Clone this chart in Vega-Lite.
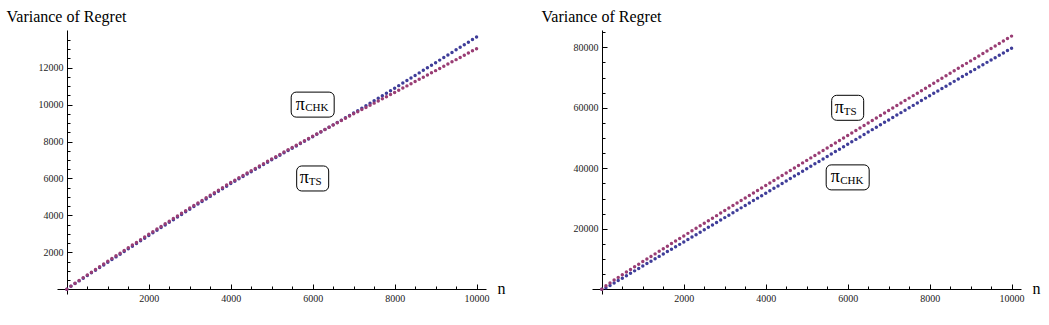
{
"$schema": "https://vega.github.io/schema/vega-lite/v6.json",
"background": "white",
"padding": {"left": 6, "top": 8, "right": 5, "bottom": 5},
"bounds": "flush",
"spacing": 106,
"config": {"view": {"stroke": null}, "font": "Liberation Serif", "axis": {"grid": false, "domainColor": "black", "tickColor": "black", "tickWidth": 1, "domainWidth": 1, "labelFont": "Liberation Serif", "labelFontSize": 10, "labelColor": "#222", "titleFont": "Liberation Serif", "titleFontWeight": "normal", "titleColor": "black", "labelFlush": false, "labelOverlap": false}},
"datasets": {
"left": [
{"n":0,"chk":0,"ts":0},{"n":100,"chk":160,"ts":172},{"n":200,"chk":310,"ts":330},{"n":300,"chk":455,"ts":482},{"n":400,"chk":600,"ts":632},{"n":500,"chk":745,"ts":780},{"n":600,"chk":890,"ts":927},{"n":700,"chk":1033,"ts":1075},{"n":800,"chk":1177,"ts":1223},{"n":900,"chk":1321,"ts":1371},
{"n":1000,"chk":1466,"ts":1520},{"n":1100,"chk":1611,"ts":1666},{"n":1200,"chk":1755,"ts":1811},{"n":1300,"chk":1900,"ts":1957},{"n":1400,"chk":2044,"ts":2102},{"n":1500,"chk":2189,"ts":2248},{"n":1600,"chk":2334,"ts":2393},{"n":1700,"chk":2478,"ts":2539},{"n":1800,"chk":2623,"ts":2684},{"n":1900,"chk":2767,"ts":2830},
{"n":2000,"chk":2912,"ts":2975},{"n":2100,"chk":3055,"ts":3118},{"n":2200,"chk":3197,"ts":3260},{"n":2300,"chk":3340,"ts":3403},{"n":2400,"chk":3482,"ts":3545},{"n":2500,"chk":3625,"ts":3688},{"n":2600,"chk":3768,"ts":3830},{"n":2700,"chk":3910,"ts":3973},{"n":2800,"chk":4053,"ts":4115},{"n":2900,"chk":4195,"ts":4258},
{"n":3000,"chk":4338,"ts":4400},{"n":3100,"chk":4477,"ts":4538},{"n":3200,"chk":4615,"ts":4676},{"n":3300,"chk":4754,"ts":4814},{"n":3400,"chk":4892,"ts":4952},{"n":3500,"chk":5031,"ts":5090},{"n":3600,"chk":5170,"ts":5228},{"n":3700,"chk":5308,"ts":5366},{"n":3800,"chk":5447,"ts":5504},{"n":3900,"chk":5585,"ts":5642},
{"n":4000,"chk":5724,"ts":5780},{"n":4100,"chk":5853,"ts":5908},{"n":4200,"chk":5981,"ts":6036},{"n":4300,"chk":6110,"ts":6164},{"n":4400,"chk":6238,"ts":6292},{"n":4500,"chk":6367,"ts":6420},{"n":4600,"chk":6496,"ts":6548},{"n":4700,"chk":6624,"ts":6676},{"n":4800,"chk":6753,"ts":6804},{"n":4900,"chk":6881,"ts":6932},
{"n":5000,"chk":7010,"ts":7060},{"n":5100,"chk":7136,"ts":7183},{"n":5200,"chk":7261,"ts":7306},{"n":5300,"chk":7387,"ts":7429},{"n":5400,"chk":7512,"ts":7552},{"n":5500,"chk":7638,"ts":7675},{"n":5600,"chk":7763,"ts":7798},{"n":5700,"chk":7889,"ts":7921},{"n":5800,"chk":8014,"ts":8044},{"n":5900,"chk":8140,"ts":8167},
{"n":6000,"chk":8265,"ts":8290},{"n":6100,"chk":8393,"ts":8411},{"n":6200,"chk":8520,"ts":8532},{"n":6300,"chk":8648,"ts":8653},{"n":6400,"chk":8775,"ts":8774},{"n":6500,"chk":8903,"ts":8895},{"n":6600,"chk":9030,"ts":9016},{"n":6700,"chk":9158,"ts":9137},{"n":6800,"chk":9285,"ts":9258},{"n":6900,"chk":9413,"ts":9379},
{"n":7000,"chk":9540,"ts":9500},{"n":7100,"chk":9675,"ts":9616},{"n":7200,"chk":9810,"ts":9732},{"n":7300,"chk":9945,"ts":9848},{"n":7400,"chk":10080,"ts":9964},{"n":7500,"chk":10215,"ts":10080},{"n":7600,"chk":10350,"ts":10196},{"n":7700,"chk":10485,"ts":10312},{"n":7800,"chk":10620,"ts":10428},{"n":7900,"chk":10755,"ts":10544},
{"n":8000,"chk":10890,"ts":10660},{"n":8100,"chk":11028,"ts":10778},{"n":8200,"chk":11166,"ts":10896},{"n":8300,"chk":11304,"ts":11014},{"n":8400,"chk":11442,"ts":11132},{"n":8500,"chk":11580,"ts":11250},{"n":8600,"chk":11718,"ts":11368},{"n":8700,"chk":11856,"ts":11486},{"n":8800,"chk":11994,"ts":11604},{"n":8900,"chk":12132,"ts":11722},
{"n":9000,"chk":12270,"ts":11840},{"n":9100,"chk":12409,"ts":11959},{"n":9200,"chk":12548,"ts":12078},{"n":9300,"chk":12687,"ts":12197},{"n":9400,"chk":12826,"ts":12316},{"n":9500,"chk":12965,"ts":12435},{"n":9600,"chk":13104,"ts":12554},{"n":9700,"chk":13243,"ts":12673},{"n":9800,"chk":13382,"ts":12792},{"n":9900,"chk":13521,"ts":12911},
{"n":10000,"chk":13660,"ts":13030}
],
"right": [
{"n":0,"chk":0,"ts":0},{"n":100,"chk":480,"ts":1170},{"n":200,"chk":1280,"ts":2120},{"n":300,"chk":2083,"ts":3040},{"n":400,"chk":2885,"ts":3940},{"n":500,"chk":3688,"ts":4830},{"n":600,"chk":4490,"ts":5710},{"n":700,"chk":5293,"ts":6580},{"n":800,"chk":6095,"ts":7450},{"n":900,"chk":6898,"ts":8310},
{"n":1000,"chk":7700,"ts":9170},{"n":1100,"chk":8495,"ts":10019},{"n":1200,"chk":9290,"ts":10867},{"n":1300,"chk":10085,"ts":11716},{"n":1400,"chk":10880,"ts":12564},{"n":1500,"chk":11675,"ts":13413},{"n":1600,"chk":12470,"ts":14261},{"n":1700,"chk":13265,"ts":15110},{"n":1800,"chk":14060,"ts":15958},{"n":1900,"chk":14855,"ts":16807},
{"n":2000,"chk":15650,"ts":17655},{"n":2100,"chk":16455,"ts":18492},{"n":2200,"chk":17260,"ts":19329},{"n":2300,"chk":18065,"ts":20166},{"n":2400,"chk":18870,"ts":21004},{"n":2500,"chk":19675,"ts":21841},{"n":2600,"chk":20480,"ts":22678},{"n":2700,"chk":21285,"ts":23515},{"n":2800,"chk":22090,"ts":24352},{"n":2900,"chk":22895,"ts":25190},
{"n":3000,"chk":23700,"ts":26027},{"n":3100,"chk":24505,"ts":26858},{"n":3200,"chk":25310,"ts":27689},{"n":3300,"chk":26115,"ts":28521},{"n":3400,"chk":26920,"ts":29352},{"n":3500,"chk":27725,"ts":30184},{"n":3600,"chk":28530,"ts":31015},{"n":3700,"chk":29335,"ts":31846},{"n":3800,"chk":30140,"ts":32677},{"n":3900,"chk":30945,"ts":33509},
{"n":4000,"chk":31750,"ts":34340},{"n":4100,"chk":32560,"ts":35168},{"n":4200,"chk":33370,"ts":35995},{"n":4300,"chk":34180,"ts":36823},{"n":4400,"chk":34990,"ts":37650},{"n":4500,"chk":35800,"ts":38478},{"n":4600,"chk":36610,"ts":39306},{"n":4700,"chk":37420,"ts":40133},{"n":4800,"chk":38230,"ts":40961},{"n":4900,"chk":39040,"ts":41788},
{"n":5000,"chk":39850,"ts":42616},{"n":5100,"chk":40660,"ts":43441},{"n":5200,"chk":41470,"ts":44266},{"n":5300,"chk":42280,"ts":45091},{"n":5400,"chk":43090,"ts":45916},{"n":5500,"chk":43900,"ts":46741},{"n":5600,"chk":44710,"ts":47566},{"n":5700,"chk":45520,"ts":48391},{"n":5800,"chk":46330,"ts":49216},{"n":5900,"chk":47140,"ts":50041},
{"n":6000,"chk":47950,"ts":50866},{"n":6100,"chk":48755,"ts":51689},{"n":6200,"chk":49560,"ts":52512},{"n":6300,"chk":50365,"ts":53335},{"n":6400,"chk":51170,"ts":54158},{"n":6500,"chk":51975,"ts":54981},{"n":6600,"chk":52780,"ts":55804},{"n":6700,"chk":53585,"ts":56627},{"n":6800,"chk":54390,"ts":57450},{"n":6900,"chk":55195,"ts":58273},
{"n":7000,"chk":56000,"ts":59096},{"n":7100,"chk":56800,"ts":59917},{"n":7200,"chk":57600,"ts":60738},{"n":7300,"chk":58400,"ts":61560},{"n":7400,"chk":59200,"ts":62381},{"n":7500,"chk":60000,"ts":63203},{"n":7600,"chk":60800,"ts":64024},{"n":7700,"chk":61600,"ts":64845},{"n":7800,"chk":62400,"ts":65666},{"n":7900,"chk":63200,"ts":66488},
{"n":8000,"chk":64000,"ts":67309},{"n":8100,"chk":64790,"ts":68129},{"n":8200,"chk":65580,"ts":68949},{"n":8300,"chk":66370,"ts":69769},{"n":8400,"chk":67160,"ts":70589},{"n":8500,"chk":67950,"ts":71410},{"n":8600,"chk":68740,"ts":72230},{"n":8700,"chk":69530,"ts":73050},{"n":8800,"chk":70320,"ts":73870},{"n":8900,"chk":71110,"ts":74690},
{"n":9000,"chk":71900,"ts":75510},{"n":9100,"chk":72680,"ts":76329},{"n":9200,"chk":73460,"ts":77148},{"n":9300,"chk":74240,"ts":77967},{"n":9400,"chk":75020,"ts":78786},{"n":9500,"chk":75800,"ts":79605},{"n":9600,"chk":76580,"ts":80424},{"n":9700,"chk":77360,"ts":81243},{"n":9800,"chk":78140,"ts":82062},{"n":9900,"chk":78920,"ts":82881},
{"n":10000,"chk":79700,"ts":83700}
],
"annL": [{"lbl":"CHK","x":6000,"y":10000},{"lbl":"TS","x":6000,"y":6000}],
"annR": [{"lbl":"TS","x":6000,"y":60000},{"lbl":"CHK","x":6000,"y":37000}]
},
"hconcat": [
{
"width": 429, "height": 264,
"resolve": {"axis": {"x": "independent", "y": "independent"}},
"layer": [
{"data": {"name": "left"}, "transform": [{"fold": ["chk", "ts"], "as": ["series", "v"]}],
 "mark": {"type": "point", "filled": true, "size": 12, "opacity": 1},
 "encoding": {
  "x": {"field": "n", "type": "quantitative", "scale": {"domain": [-240, 10230], "nice": false, "zero": false},
        "axis": {"orient": "bottom", "values": [2000, 4000, 6000, 8000, 10000], "format": "d", "tickSize": -5, "labelPadding": 9, "offset": -5, "title": "n", "titleX": 440, "titleY": 4, "titleAlign": "left", "titleBaseline": "alphabetic", "titleFontSize": 16, "titleAngle": 0}},
  "y": {"field": "v", "type": "quantitative", "scale": {"domain": [-255, 14040], "nice": false, "zero": false},
        "axis": {"orient": "left", "values": [2000, 4000, 6000, 8000, 10000, 12000], "format": "d", "tickSize": -5, "labelPadding": 9, "offset": -10, "title": "Variance of Regret", "titleAngle": 0, "titleX": -61, "titleY": -9, "titleAlign": "left", "titleBaseline": "alphabetic", "titleFontSize": 16}},
  "color": {"field": "series", "type": "nominal", "scale": {"domain": ["chk", "ts"], "range": ["#3F3D99", "#993D74"]}, "legend": null}
 }},
{"data": {"name": "annL"}, "mark": {"type": "point", "opacity": 0},
 "encoding": {
  "x": {"field": "x", "type": "quantitative", "scale": {"domain": [-240, 10230], "nice": false, "zero": false},
        "axis": {"orient": "bottom", "values": [500,1000,1500,2500,3000,3500,4500,5000,5500,6500,7000,7500,8500,9000,9500], "tickSize": -3, "labels": false, "domain": false, "title": null, "offset": -5}},
  "y": {"field": "y", "type": "quantitative", "scale": {"domain": [-255, 14040], "nice": false, "zero": false},
        "axis": {"orient": "left", "values": [500,1000,1500,2500,3000,3500,4500,5000,5500,6500,7000,7500,8500,9000,9500,10500,11000,11500,12500,13000,13500], "tickSize": -3, "labels": false, "domain": false, "title": null, "offset": -10}}
 }},
{"data": {"name": "annL"}, "transform": [{"filter": "datum.lbl == 'CHK'"}],
 "mark": {"type": "rect", "width": 43, "height": 25, "cornerRadius": 5, "fill": "white", "stroke": "black", "strokeWidth": 1},
 "encoding": {"x": {"field": "x", "type": "quantitative", "axis": null}, "y": {"field": "y", "type": "quantitative", "axis": null}}},
{"data": {"name": "annL"}, "transform": [{"filter": "datum.lbl == 'TS'"}],
 "mark": {"type": "rect", "width": 32, "height": 25, "cornerRadius": 5, "fill": "white", "stroke": "black", "strokeWidth": 1},
 "encoding": {"x": {"field": "x", "type": "quantitative", "axis": null}, "y": {"field": "y", "type": "quantitative", "axis": null}}},
{"data": {"name": "annL"}, "transform": [{"filter": "datum.lbl == 'CHK'"}],
 "mark": {"type": "text", "text": "π", "fontSize": 18, "font": "Liberation Serif", "align": "left", "baseline": "alphabetic", "dx": -17, "dy": 5, "color": "black"},
 "encoding": {"x": {"field": "x", "type": "quantitative", "axis": null}, "y": {"field": "y", "type": "quantitative", "axis": null}}},
{"data": {"name": "annL"}, "transform": [{"filter": "datum.lbl == 'CHK'"}],
 "mark": {"type": "text", "fontSize": 11, "font": "Liberation Serif", "align": "left", "baseline": "alphabetic", "dx": -7.5, "dy": 6.7, "color": "black"},
 "encoding": {"x": {"field": "x", "type": "quantitative", "axis": null}, "y": {"field": "y", "type": "quantitative", "axis": null}, "text": {"field": "lbl"}}},
{"data": {"name": "annL"}, "transform": [{"filter": "datum.lbl == 'TS'"}],
 "mark": {"type": "text", "text": "π", "fontSize": 18, "font": "Liberation Serif", "align": "left", "baseline": "alphabetic", "dx": -13, "dy": 5, "color": "black"},
 "encoding": {"x": {"field": "x", "type": "quantitative", "axis": null}, "y": {"field": "y", "type": "quantitative", "axis": null}}},
{"data": {"name": "annL"}, "transform": [{"filter": "datum.lbl == 'TS'"}],
 "mark": {"type": "text", "fontSize": 11, "font": "Liberation Serif", "align": "left", "baseline": "alphabetic", "dx": -4, "dy": 6.7, "color": "black"},
 "encoding": {"x": {"field": "x", "type": "quantitative", "axis": null}, "y": {"field": "y", "type": "quantitative", "axis": null}, "text": {"field": "lbl"}}}
]
},
{
"width": 429, "height": 264,
"resolve": {"axis": {"x": "independent", "y": "independent"}},
"layer": [
{"data": {"name": "right"}, "transform": [{"fold": ["chk", "ts"], "as": ["series", "v"]}],
 "mark": {"type": "point", "filled": true, "size": 12, "opacity": 1},
 "encoding": {
  "x": {"field": "n", "type": "quantitative", "scale": {"domain": [-240, 10230], "nice": false, "zero": false},
        "axis": {"orient": "bottom", "values": [2000, 4000, 6000, 8000, 10000], "format": "d", "tickSize": -5, "labelPadding": 9, "offset": -5, "title": "n", "titleX": 440, "titleY": 4, "titleAlign": "left", "titleBaseline": "alphabetic", "titleFontSize": 16, "titleAngle": 0}},
  "y": {"field": "v", "type": "quantitative", "scale": {"domain": [-1554, 85720], "nice": false, "zero": false},
        "axis": {"orient": "left", "values": [20000, 40000, 60000, 80000], "format": "d", "tickSize": -5, "labelPadding": 9, "offset": -10, "title": "Variance of Regret", "titleAngle": 0, "titleX": -61, "titleY": -9, "titleAlign": "left", "titleBaseline": "alphabetic", "titleFontSize": 16}},
  "color": {"field": "series", "type": "nominal", "scale": {"domain": ["chk", "ts"], "range": ["#3F3D99", "#993D74"]}, "legend": null}
 }},
{"data": {"name": "annR"}, "mark": {"type": "point", "opacity": 0},
 "encoding": {
  "x": {"field": "x", "type": "quantitative", "scale": {"domain": [-240, 10230], "nice": false, "zero": false},
        "axis": {"orient": "bottom", "values": [500,1000,1500,2500,3000,3500,4500,5000,5500,6500,7000,7500,8500,9000,9500], "tickSize": -3, "labels": false, "domain": false, "title": null, "offset": -5}},
  "y": {"field": "y", "type": "quantitative", "scale": {"domain": [-1554, 85720], "nice": false, "zero": false},
        "axis": {"orient": "left", "values": [5000,10000,15000,25000,30000,35000,45000,50000,55000,65000,70000,75000,85000], "tickSize": -3, "labels": false, "domain": false, "title": null, "offset": -10}}
 }},
{"data": {"name": "annR"}, "transform": [{"filter": "datum.lbl == 'CHK'"}],
 "mark": {"type": "rect", "width": 43, "height": 25, "cornerRadius": 5, "fill": "white", "stroke": "black", "strokeWidth": 1},
 "encoding": {"x": {"field": "x", "type": "quantitative", "axis": null}, "y": {"field": "y", "type": "quantitative", "axis": null}}},
{"data": {"name": "annR"}, "transform": [{"filter": "datum.lbl == 'TS'"}],
 "mark": {"type": "rect", "width": 32, "height": 25, "cornerRadius": 5, "fill": "white", "stroke": "black", "strokeWidth": 1},
 "encoding": {"x": {"field": "x", "type": "quantitative", "axis": null}, "y": {"field": "y", "type": "quantitative", "axis": null}}},
{"data": {"name": "annR"}, "transform": [{"filter": "datum.lbl == 'CHK'"}],
 "mark": {"type": "text", "text": "π", "fontSize": 18, "font": "Liberation Serif", "align": "left", "baseline": "alphabetic", "dx": -17, "dy": 5, "color": "black"},
 "encoding": {"x": {"field": "x", "type": "quantitative", "axis": null}, "y": {"field": "y", "type": "quantitative", "axis": null}}},
{"data": {"name": "annR"}, "transform": [{"filter": "datum.lbl == 'CHK'"}],
 "mark": {"type": "text", "fontSize": 11, "font": "Liberation Serif", "align": "left", "baseline": "alphabetic", "dx": -7.5, "dy": 6.7, "color": "black"},
 "encoding": {"x": {"field": "x", "type": "quantitative", "axis": null}, "y": {"field": "y", "type": "quantitative", "axis": null}, "text": {"field": "lbl"}}},
{"data": {"name": "annR"}, "transform": [{"filter": "datum.lbl == 'TS'"}],
 "mark": {"type": "text", "text": "π", "fontSize": 18, "font": "Liberation Serif", "align": "left", "baseline": "alphabetic", "dx": -13, "dy": 5, "color": "black"},
 "encoding": {"x": {"field": "x", "type": "quantitative", "axis": null}, "y": {"field": "y", "type": "quantitative", "axis": null}}},
{"data": {"name": "annR"}, "transform": [{"filter": "datum.lbl == 'TS'"}],
 "mark": {"type": "text", "fontSize": 11, "font": "Liberation Serif", "align": "left", "baseline": "alphabetic", "dx": -4, "dy": 6.7, "color": "black"},
 "encoding": {"x": {"field": "x", "type": "quantitative", "axis": null}, "y": {"field": "y", "type": "quantitative", "axis": null}, "text": {"field": "lbl"}}}
]
}
]
}
